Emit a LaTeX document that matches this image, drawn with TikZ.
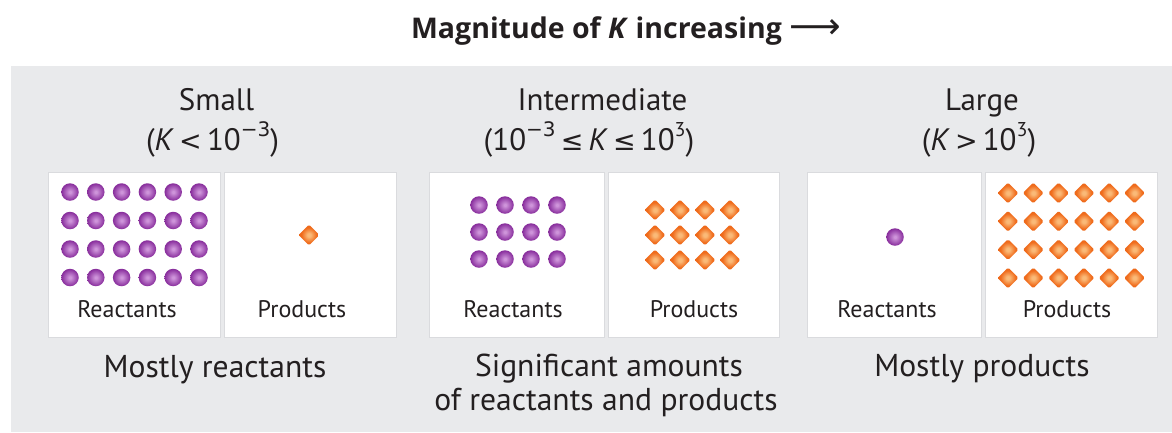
\documentclass[tikz,border=0pt]{standalone}
\usepackage{fontspec}
\setmainfont{PT Sans}
\newfontfamily\symf{DejaVu Sans}
\newfontfamily\ttlf{Open Sans}
\usetikzlibrary{shapes.geometric}
\definecolor{bgray}{RGB}{233,234,236}
\definecolor{ink}{RGB}{35,31,32}
\definecolor{boxline}{RGB}{218,219,222}
\definecolor{sphin}{RGB}{206,148,218}
\definecolor{sphmid}{RGB}{138,48,158}
\definecolor{sphout}{RGB}{104,30,120}
\definecolor{dmin}{RGB}{250,186,120}
\definecolor{dmmid}{RGB}{240,108,28}
\definecolor{dmout}{RGB}{222,86,16}
\pgfdeclareradialshading{sphshade}{\pgfpoint{0bp}{0bp}}{color(0bp)=(sphin); color(3bp)=(sphin); color(24bp)=(sphmid); color(50bp)=(sphout)}
\pgfdeclareradialshading{dmshade}{\pgfpoint{0bp}{0bp}}{color(0bp)=(dmin); color(4bp)=(dmin); color(18bp)=(dmmid); color(50bp)=(dmout)}
\newcommand\upx[1]{\raisebox{0.42em}{\fontsize{20}{20}\selectfont #1}}
\newcommand\sym[1]{{\symf\fontsize{27}{30}\selectfont #1}}
\tikzset{
  panelbox/.style={fill=white, draw=boxline, line width=0.6pt},
  sphere/.style={circle, inner sep=0pt, minimum size=17.5pt, shading=sphshade},
  gem/.style={diamond, aspect=1, inner sep=0pt, minimum size=21pt, shading=dmshade, rounded corners=1.5pt},
  lbl/.style={font=\fontsize{24}{28}\selectfont, text=ink, anchor=base, inner sep=0pt},
  head/.style={font=\fontsize{31}{36}\selectfont, text=ink, anchor=base, inner sep=0pt},
  foot/.style={font=\fontsize{31.6}{36}\selectfont, text=ink, anchor=base, inner sep=0pt},
  ttl/.style={font=\ttlf\fontsize{28.5}{32}\selectfont\bfseries, text=ink, anchor=base, inner sep=0pt}
}
\begin{document}
\begin{tikzpicture}[x=1pt,y=-1pt]
\useasboundingbox (0,0) rectangle (1172,432);
\fill[white] (0,0) rectangle (1172,432);
\fill[bgray] (11,66) rectangle (1172,432);
% title
\node[ttl] (title) at (626,38) {Magnitude of \textit{K} increasing {\symf\mdseries\fontsize{36}{30}\selectfont ⟶}};
% headings
\node[head] (h1) at (216.5,110) {Small};
\node[head] (k1) at (212.5,150) {(\textit{K}\,\sym{<}\,10\upx{\symf −3})};
\node[head] (h2) at (602.5,110) {Intermediate};
\node[head] (k2) at (589,150) {(10\upx{\symf −3}\,\sym{≤}\,\textit{K}\,\sym{≤}\,10\upx{3})};
\node[head] (h3) at (982,110) {Large};
\node[head] (k3) at (979,150) {(\textit{K}\,\sym{>}\,10\upx{3})};
% boxes
\draw[panelbox] (48,172) rectangle (220,337);
\draw[panelbox] (224,172) rectangle (396,337);
\draw[panelbox] (429,172) rectangle (604,337);
\draw[panelbox] (608,172) rectangle (779,337);
\draw[panelbox] (807,172) rectangle (981,337);
\draw[panelbox] (985,172) rectangle (1157,337);
% panel 1
\foreach \i in {0,...,5}{\foreach \j in {0,...,3}{
  \node[sphere] (ra-\i-\j) at ({70+25.8*\i},{192+28.5*\j}) {};}}
\node[gem] (pa) at (309,235) {};
% panel 2
\foreach \i in {0,...,3}{\foreach \j in {0,...,2}{
  \node[sphere] (rb-\i-\j) at ({479+26*\i},{205+27*\j}) {};
  \node[gem] (pb-\i-\j) at ({655+25*\i},{210+25*\j}) {};}}
% panel 3
\node[sphere] (rc) at (895,237) {};
\foreach \i in {0,...,5}{\foreach \j in {0,...,3}{
  \node[gem] (pc-\i-\j) at ({1008+25.3*\i},{193+28.3*\j}) {};}}
% box labels
\node[lbl] (l1) at (127,317) {Reactants};
\node[lbl] (l2) at (302,317) {Products};
\node[lbl] (l3) at (513,317) {Reactants};
\node[lbl] (l4) at (694,317) {Products};
\node[lbl] (l5) at (887,317) {Reactants};
\node[lbl] (l6) at (1067,317) {Products};
% footers
\node[foot] (f1) at (215,377) {Mostly reactants};
\node[foot] (f2) at (609,376) {Significant amounts};
\node[foot] (f2b) at (606,410) {of reactants and products};
\node[foot] (f3) at (982,376) {Mostly products};
\end{tikzpicture}
\end{document}
